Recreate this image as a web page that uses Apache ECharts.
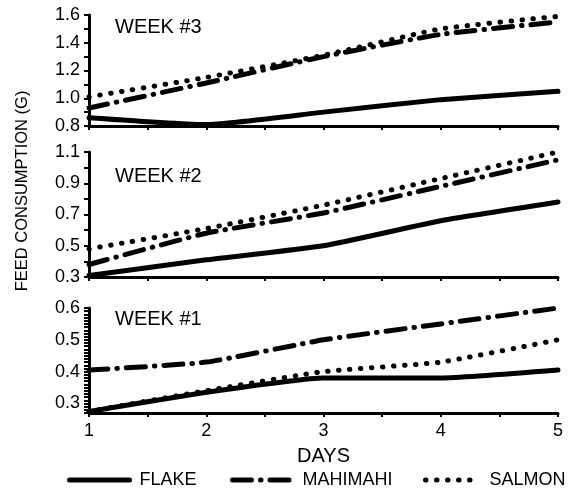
<!DOCTYPE html>
<html>
<head>
<meta charset="utf-8">
<script src="https://cdn.jsdelivr.net/npm/echarts@6/dist/echarts.min.js"></script>
<style>html,body{margin:0;padding:0;background:#fff}#c{width:570px;height:490px}</style>
</head>
<body>
<div id="c"></div>
<script>
const days = [1, 2, 3, 4, 5];
const seriesNames = ['FLAKE', 'MAHIMAHI', 'SALMON'];
const panelTitles = ['WEEK #3', 'WEEK #2', 'WEEK #1'];
const yAxisTitle = 'FEED CONSUMPTION (G)';
const xAxisTitle = 'DAYS';
// Week 3 (top panel)
const week3Flake = [0.86, 0.81, 0.90, 0.99, 1.05];
const week3Mahimahi = [0.93, 1.11, 1.30, 1.46, 1.55];
const week3Salmon = [1.01, 1.15, 1.31, 1.50, 1.59];
// Week 2 (middle panel)
const week2Flake = [0.31, 0.41, 0.50, 0.66, 0.78];
const week2Mahimahi = [0.38, 0.58, 0.71, 0.88, 1.05];
const week2Salmon = [0.48, 0.61, 0.76, 0.93, 1.10];
// Week 1 (bottom panel)
const week1Flake = [0.275, 0.335, 0.38, 0.38, 0.405];
const week1Mahimahi = [0.405, 0.43, 0.50, 0.55, 0.60];
const week1Salmon = [0.275, 0.34, 0.40, 0.43, 0.50];
// y-axis ranges and tick labels per panel
const yRanges = [[0.8, 1.6], [0.3, 1.1], [0.27, 0.6]];
const yTickLabels = [[0.8, 1.0, 1.2, 1.4, 1.6], [0.3, 0.5, 0.7, 0.9, 1.1], [0.3, 0.4, 0.5, 0.6]];
const xTickLabels = [1, 2, 3, 4, 5];

const panels = [
  [week3Flake, week3Mahimahi, week3Salmon],
  [week2Flake, week2Mahimahi, week2Salmon],
  [week1Flake, week1Mahimahi, week1Salmon]
];

const FONT = 'Liberation Sans, Arial, Helvetica, sans-serif';
const grids = [
  {left: 89, right: 12, top: 15, height: 111},
  {left: 89, right: 12, top: 152, height: 125},
  {left: 89, right: 12, top: 308, height: 105}
];
const yIntervals = [0.1, 0.1, 0.01];
const lineStyles = [
  {type: 'solid'},
  {type: [19, 9, 0.5, 9]},
  {type: [0.5, 10.5]}
];

const xAxes = grids.map((g, i) => ({
  type: 'value', gridIndex: i, min: 1, max: 5, interval: 0.5,
  axisLine: {lineStyle: {color: '#000', width: 3}},
  axisTick: {show: true, length: 4, lineStyle: {color: '#000', width: 2}},
  splitLine: {show: false},
  axisLabel: {
    show: i === 2, margin: 9, color: '#000', fontSize: 18, fontFamily: FONT,
    formatter: v => xTickLabels.some(t => Math.abs(t - v) < 1e-6) ? String(Math.round(v)) : ''
  },
  name: i === 2 ? xAxisTitle : '',
  nameLocation: 'middle', nameGap: 33,
  nameTextStyle: {color: '#000', fontSize: 20, fontFamily: FONT}
}));

const yAxes = grids.map((g, i) => ({
  type: 'value', gridIndex: i, min: yRanges[i][0], max: yRanges[i][1], interval: yIntervals[i],
  axisLine: {show: true, lineStyle: {color: '#000', width: 3}},
  axisTick: {show: true, length: 5, lineStyle: {color: '#000', width: 2}},
  splitLine: {show: false},
  axisLabel: {
    margin: 9, color: '#000', fontSize: 18, fontFamily: FONT,
    formatter: v => yTickLabels[i].some(t => Math.abs(t - v) < 1e-6) ? v.toFixed(1) : ''
  }
}));

const series = [];
panels.forEach((vals, pi) => {
  vals.forEach((arr, si) => {
    series.push({
      name: seriesNames[si], type: 'line', xAxisIndex: pi, yAxisIndex: pi,
      data: days.map((d, k) => [d, arr[k]]),
      symbol: 'none', smooth: 0.15, clip: false,
      lineStyle: Object.assign({color: '#000', width: 5, cap: 'round', join: 'round'}, lineStyles[si]),
      itemStyle: {color: '#000'},
      z: 3 - si
    });
  });
});

const legendLefts = [67, 230, 423];
const legendWidths = [60, 60, 54];
const legends = seriesNames.map((n, i) => ({
  data: [n], left: legendLefts[i], top: 471, padding: 0,
  itemWidth: legendWidths[i], itemHeight: 10,
  lineStyle: {width: 5, cap: 'round'},
  itemStyle: {color: 'rgba(0,0,0,0)', borderWidth: 0, opacity: 0},
  textStyle: {color: '#000', fontSize: 18, fontFamily: FONT, padding: [0, 0, 0, 5]},
  selectedMode: false
}));

const chart = echarts.init(document.getElementById('c'), null, {renderer: 'canvas'});
chart.setOption({
  backgroundColor: '#fff',
  animation: false,
  grid: grids,
  xAxis: xAxes,
  yAxis: yAxes,
  legend: legends,
  graphic: [
    {type: 'text', left: 115, top: 17, style: {text: panelTitles[0], font: '20px ' + FONT, fill: '#000'}},
    {type: 'text', left: 115, top: 166, style: {text: panelTitles[1], font: '20px ' + FONT, fill: '#000'}},
    {type: 'text', left: 115, top: 309, style: {text: panelTitles[2], font: '20px ' + FONT, fill: '#000'}},
    {type: 'text', x: 22, y: 191, rotation: Math.PI / 2,
     style: {text: yAxisTitle, font: '16.5px ' + FONT, fill: '#000', textAlign: 'center', textVerticalAlign: 'middle'}}
  ],
  series: series
});
</script>
</body>
</html>
